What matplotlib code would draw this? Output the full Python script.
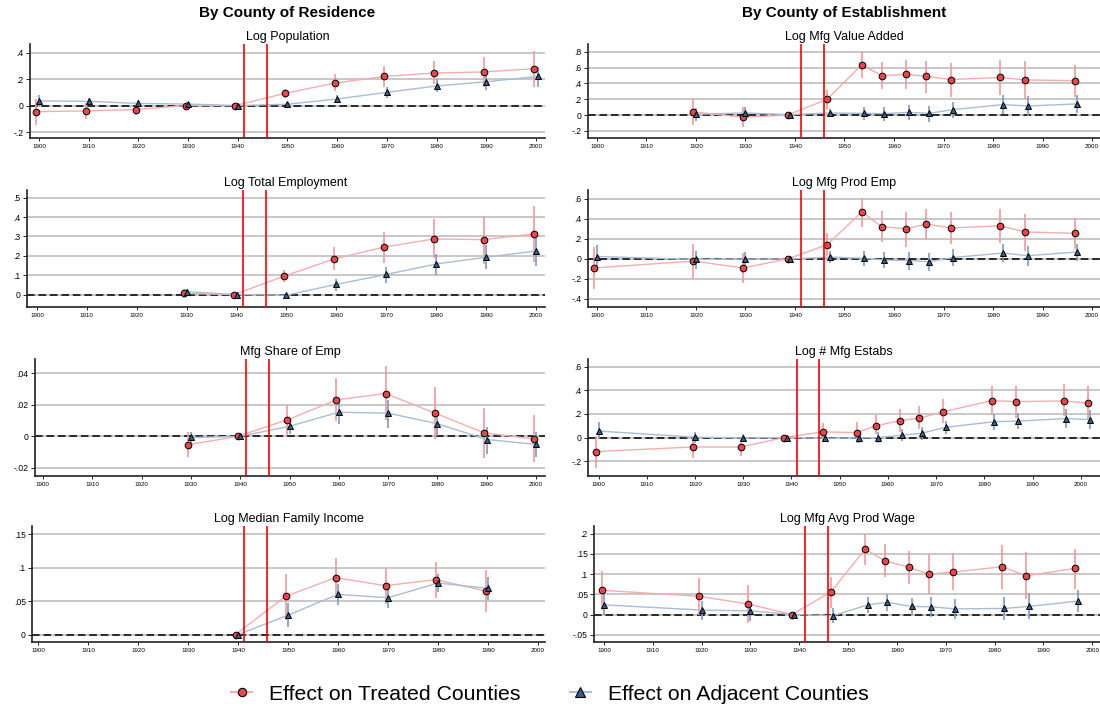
import numpy as np
import matplotlib
matplotlib.use('Agg')
import matplotlib.pyplot as plt
from matplotlib.lines import Line2D

plt.rcParams['font.family'] = ['Liberation Sans', 'DejaVu Sans']

# ---- data: point estimates and 95% CI bounds (treated = red, adjacent = blue) ----
# Log Population
pop_yr_t = [1899.5, 1909.5, 1919.5, 1929.5, 1939.5, 1949.5, 1959.5, 1969.5, 1979.5, 1989.5, 1999.5]
pop_t = [-0.046, -0.04, -0.03, 0.0, 0.0, 0.092, 0.17, 0.22, 0.246, 0.254, 0.278]
pop_t_lo = [-0.145, -0.105, -0.075, -0.02, 0.0, 0.06, 0.11, 0.14, 0.16, 0.14, 0.14]
pop_t_hi = [0.05, 0.02, 0.01, 0.02, 0.0, 0.125, 0.235, 0.30, 0.34, 0.37, 0.41]
pop_yr_a = [1900, 1910, 1920, 1930, 1940, 1950, 1960, 1970, 1980, 1990, 2000.3]
pop_a = [0.035, 0.032, 0.016, 0.011, 0.0, 0.01, 0.05, 0.10, 0.148, 0.18, 0.22]
pop_a_lo = [0.0, 0.01, -0.01, -0.01, 0.0, -0.01, 0.02, 0.06, 0.10, 0.12, 0.14]
pop_a_hi = [0.08, 0.06, 0.04, 0.03, 0.0, 0.03, 0.08, 0.14, 0.20, 0.24, 0.29]

# Log Total Employment
emp_yr_t = [1929.5, 1939.5, 1949.5, 1959.5, 1969.5, 1979.5, 1989.5, 1999.5]
emp_t = [0.006, 0.0, 0.095, 0.184, 0.245, 0.287, 0.284, 0.313]
emp_t_lo = [-0.02, 0.0, 0.065, 0.125, 0.165, 0.19, 0.16, 0.17]
emp_t_hi = [0.03, 0.0, 0.125, 0.245, 0.325, 0.39, 0.405, 0.455]
emp_yr_a = [1930, 1940, 1950, 1960, 1970, 1980, 1990, 2000]
emp_a = [0.015, 0.0, -0.003, 0.053, 0.104, 0.158, 0.193, 0.225]
emp_a_lo = [0.0, 0.0, -0.02, 0.02, 0.06, 0.10, 0.13, 0.15]
emp_a_hi = [0.03, 0.0, 0.01, 0.08, 0.14, 0.21, 0.255, 0.30]

# Mfg Share of Emp
shr_yr_t = [1929.5, 1939.5, 1949.5, 1959.5, 1969.5, 1979.5, 1989.5, 1999.5]
shr_t = [-0.0053, 0.0, 0.0104, 0.0231, 0.0271, 0.0147, 0.0022, -0.0016]
shr_t_lo = [-0.013, 0.0, 0.001, 0.0095, 0.0105, -0.0015, -0.014, -0.0165]
shr_t_hi = [0.0025, 0.0, 0.02, 0.037, 0.0445, 0.031, 0.018, 0.0133]
shr_yr_a = [1930, 1940, 1950, 1960, 1970, 1980, 1990, 2000]
shr_a = [-0.0007, 0.0, 0.0064, 0.0153, 0.0147, 0.008, -0.002, -0.0051]
shr_a_lo = [-0.004, 0.0, 0.0015, 0.008, 0.0055, 0.0, -0.011, -0.013]
shr_a_hi = [0.003, 0.0, 0.011, 0.022, 0.023, 0.016, 0.006, 0.0025]

# Log Median Family Income
inc_yr_t = [1939.5, 1949.5, 1959.5, 1969.5, 1979.5, 1989.5]
inc_t = [0.0, 0.057, 0.085, 0.073, 0.082, 0.065]
inc_t_lo = [0.0, 0.022, 0.055, 0.046, 0.055, 0.034]
inc_t_hi = [0.0, 0.091, 0.115, 0.10, 0.109, 0.096]
inc_yr_a = [1940, 1950, 1960, 1970, 1980, 1990]
inc_a = [0.0, 0.029, 0.06, 0.055, 0.077, 0.069]
inc_a_lo = [0.0, 0.011, 0.044, 0.04, 0.063, 0.052]
inc_a_hi = [0.0, 0.047, 0.076, 0.07, 0.091, 0.086]

# Log Mfg Value Added
va_yr_t = [1919.5, 1929.5, 1938.5, 1946.5, 1953.5, 1957.5, 1962.5, 1966.5, 1971.5, 1981.5, 1986.5, 1996.5]
va_t = [0.04, -0.027, 0.0, 0.20, 0.636, 0.50, 0.516, 0.49, 0.45, 0.476, 0.445, 0.436]
va_t_lo = [-0.13, -0.15, 0.0, 0.08, 0.47, 0.33, 0.33, 0.28, 0.23, 0.25, 0.20, 0.23]
va_t_hi = [0.21, 0.10, 0.0, 0.32, 0.80, 0.67, 0.70, 0.69, 0.66, 0.70, 0.69, 0.64]
va_yr_a = [1920, 1930, 1939, 1947, 1954, 1958, 1963, 1967, 1972, 1982, 1987, 1997]
va_a = [0.01, 0.027, 0.005, 0.027, 0.022, 0.018, 0.035, 0.022, 0.07, 0.133, 0.115, 0.142]
va_a_lo = [-0.08, -0.05, 0.0, -0.03, -0.06, -0.07, -0.06, -0.09, -0.04, 0.02, -0.01, 0.03]
va_a_hi = [0.09, 0.10, 0.01, 0.08, 0.10, 0.10, 0.13, 0.12, 0.17, 0.25, 0.24, 0.25]

# Log Mfg Prod Emp
pe_yr_t = [1899.5, 1919.5, 1929.5, 1938.5, 1946.5, 1953.5, 1957.5, 1962.5, 1966.5, 1971.5, 1981.5, 1986.5, 1996.5]
pe_t = [-0.089, -0.021, -0.089, 0.0, 0.143, 0.47, 0.325, 0.30, 0.35, 0.31, 0.332, 0.27, 0.257]
pe_t_lo = [-0.30, -0.20, -0.24, 0.0, 0.03, 0.32, 0.17, 0.12, 0.19, 0.15, 0.16, 0.08, 0.10]
pe_t_hi = [0.12, 0.155, 0.06, 0.0, 0.26, 0.615, 0.48, 0.475, 0.505, 0.475, 0.505, 0.455, 0.41]
pe_yr_a = [1900, 1920, 1930, 1939, 1947, 1954, 1958, 1963, 1967, 1972, 1982, 1987, 1997]
pe_a = [0.025, -0.004, 0.0, 0.0, 0.02, 0.007, -0.01, -0.015, -0.028, 0.015, 0.06, 0.033, 0.07]
pe_a_lo = [-0.09, -0.10, -0.06, 0.0, -0.04, -0.07, -0.09, -0.11, -0.12, -0.07, -0.03, -0.07, -0.02]
pe_a_hi = [0.14, 0.08, 0.07, 0.0, 0.08, 0.08, 0.07, 0.07, 0.06, 0.10, 0.15, 0.13, 0.15]

# Log # Mfg Estabs
est_yr_t = [1899.5, 1919.5, 1929.5, 1938.5, 1946.5, 1953.5, 1957.5, 1962.5, 1966.5, 1971.5, 1981.5, 1986.5, 1996.5, 2001.5]
est_t = [-0.119, -0.08, -0.08, 0.0, 0.048, 0.042, 0.10, 0.143, 0.164, 0.218, 0.313, 0.305, 0.31, 0.293]
est_t_lo = [-0.26, -0.175, -0.16, 0.0, -0.03, -0.05, 0.03, 0.05, 0.07, 0.12, 0.195, 0.17, 0.18, 0.16]
est_t_hi = [0.01, 0.01, 0.0, 0.0, 0.12, 0.13, 0.19, 0.24, 0.27, 0.33, 0.44, 0.44, 0.455, 0.44]
est_yr_a = [1900, 1920, 1930, 1939, 1947, 1954, 1958, 1963, 1967, 1972, 1982, 1987, 1997, 2002]
est_a = [0.055, 0.003, -0.003, 0.0, -0.006, -0.003, 0.0, 0.021, 0.036, 0.087, 0.134, 0.14, 0.161, 0.152]
est_a_lo = [0.0, -0.05, -0.04, 0.0, -0.04, -0.05, -0.05, -0.03, -0.02, 0.03, 0.06, 0.07, 0.08, 0.07]
est_a_hi = [0.13, 0.05, 0.03, 0.0, 0.03, 0.04, 0.05, 0.07, 0.09, 0.14, 0.20, 0.21, 0.24, 0.23]

# Log Mfg Avg Prod Wage
wg_yr_t = [1899.5, 1919.5, 1929.5, 1938.5, 1946.5, 1953.5, 1957.5, 1962.5, 1966.5, 1971.5, 1981.5, 1986.5, 1996.5]
wg_t = [0.06, 0.045, 0.026, 0.0, 0.056, 0.162, 0.133, 0.117, 0.10, 0.105, 0.118, 0.096, 0.114]
wg_t_lo = [0.012, 0.0, -0.02, 0.0, 0.017, 0.123, 0.093, 0.075, 0.051, 0.06, 0.063, 0.038, 0.064]
wg_t_hi = [0.107, 0.09, 0.073, 0.0, 0.094, 0.20, 0.174, 0.158, 0.149, 0.151, 0.172, 0.155, 0.163]
wg_yr_a = [1900, 1920, 1930, 1939, 1947, 1954, 1958, 1963, 1967, 1972, 1982, 1987, 1997]
wg_a = [0.024, 0.011, 0.009, 0.0, -0.003, 0.024, 0.03, 0.02, 0.019, 0.014, 0.015, 0.02, 0.033]
wg_a_lo = [0.0, -0.013, -0.016, 0.0, -0.022, 0.004, 0.008, -0.002, -0.006, -0.01, -0.013, -0.012, 0.006]
wg_a_hi = [0.05, 0.034, 0.032, 0.0, 0.017, 0.043, 0.05, 0.042, 0.044, 0.038, 0.044, 0.052, 0.06]

war_years = [1941.2, 1945.8]
xticks = list(range(1900, 2001, 10))

# colours
red_fill = '#e8464a'
red_ci = '#f2999a'
red_line = '#f5aeae'
blue_fill = '#3a5d86'
blue_ci = '#7d9bc0'
blue_line = '#a9bdd6'


def ylab(v):
    if abs(v) < 1e-12:
        return '0'
    s = ('%g' % v)
    return s.replace('0.', '.')


def panel(ax, title, t, a, yticks, ylim, xlim):
    yt, ty, tlo, thi = t
    ya, ay, alo, ahi = a
    for y in yticks:
        ax.axhline(y, color='#b9b9b9', lw=1.1, zorder=0)
    ax.axhline(0, color='black', lw=1.1, ls=(0, (5, 2.5)), zorder=1)
    ax.vlines(yt, tlo, thi, color=red_ci, lw=1.2, zorder=2)
    ax.vlines(ya, alo, ahi, color=blue_ci, lw=1.2, zorder=2)
    ax.plot(yt, ty, color=red_line, lw=1.0, zorder=3)
    ax.plot(ya, ay, color=blue_line, lw=1.0, zorder=3)
    ax.plot(yt, ty, 'o', ms=4.8, mfc=red_fill, mec='black', mew=0.7, zorder=4, clip_on=False)
    ax.plot(ya, ay, '^', ms=5.0, mfc=blue_fill, mec='black', mew=0.7, zorder=4, clip_on=False)
    for w in war_years:
        ax.axvline(w, color='red', lw=1.2, zorder=5)
    ax.set_xlim(*xlim)
    ax.set_ylim(*ylim)
    ax.set_xticks(xticks)
    ax.set_xticklabels([str(x) for x in xticks], fontsize=4.5)
    ax.set_yticks(yticks)
    ax.set_yticklabels([ylab(v) for v in yticks], fontsize=6.2)
    ax.tick_params(axis='x', length=2.5, width=0.6, pad=1.5)
    ax.tick_params(axis='y', length=3, width=0.6, pad=1.5)
    for s in ['top', 'right']:
        ax.spines[s].set_visible(False)
    for s in ['left', 'bottom']:
        ax.spines[s].set_linewidth(1.2)
        ax.spines[s].set_color('#222222')
    ax.set_title(title, fontsize=9, pad=3)


fig = plt.figure(figsize=(11, 7.11), dpi=100)
fig.patch.set_facecolor('white')

W, H = 1100.0, 711.0
rows = [(44, 138), (190, 307), (359, 476), (526, 642)]


def make_ax(x0, x1, row):
    top, bot = rows[row]
    return fig.add_axes([x0 / W, 1 - bot / H, (x1 - x0) / W, (bot - top) / H])


ax = make_ax(30, 545, 0)
panel(ax, 'Log Population', (pop_yr_t, pop_t, pop_t_lo, pop_t_hi), (pop_yr_a, pop_a, pop_a_lo, pop_a_hi),
      [-0.2, 0, 0.2, 0.4], (-0.245, 0.465), (1898.2, 2001.8))
ax = make_ax(27, 545, 1)
panel(ax, 'Log Total Employment', (emp_yr_t, emp_t, emp_t_lo, emp_t_hi), (emp_yr_a, emp_a, emp_a_lo, emp_a_hi),
      [0, 0.1, 0.2, 0.3, 0.4, 0.5], (-0.064, 0.54), (1898.0, 2001.8))
ax = make_ax(35, 545, 2)
panel(ax, 'Mfg Share of Emp', (shr_yr_t, shr_t, shr_t_lo, shr_t_hi), (shr_yr_a, shr_a, shr_a_lo, shr_a_hi),
      [-0.02, 0, 0.02, 0.04], (-0.0251, 0.049), (1898.4, 2001.8))
ax = make_ax(32, 545, 3)
panel(ax, 'Log Median Family Income', (inc_yr_t, inc_t, inc_t_lo, inc_t_hi), (inc_yr_a, inc_a, inc_a_lo, inc_a_hi),
      [0, 0.05, 0.1, 0.15], (-0.011, 0.162), (1898.8, 2001.4))

ax = make_ax(588, 1100, 0)
panel(ax, 'Log Mfg Value Added', (va_yr_t, va_t, va_t_lo, va_t_hi), (va_yr_a, va_a, va_a_lo, va_a_hi),
      [-0.2, 0, 0.2, 0.4, 0.6, 0.8], (-0.29, 0.9), (1898.2, 2001.6))
ax = make_ax(588, 1100, 1)
panel(ax, 'Log Mfg Prod Emp', (pe_yr_t, pe_t, pe_t_lo, pe_t_hi), (pe_yr_a, pe_a, pe_a_lo, pe_a_hi),
      [-0.4, -0.2, 0, 0.2, 0.4, 0.6], (-0.48, 0.69), (1898.2, 2001.6))
ax = make_ax(588, 1100, 2)
panel(ax, 'Log # Mfg Estabs', (est_yr_t, est_t, est_t_lo, est_t_hi), (est_yr_a, est_a, est_a_lo, est_a_hi),
      [-0.2, 0, 0.2, 0.4, 0.6], (-0.326, 0.666), (1897.8, 2004.0))
ax = make_ax(594, 1100, 3)
panel(ax, 'Log Mfg Avg Prod Wage', (wg_yr_t, wg_t, wg_t_lo, wg_t_hi), (wg_yr_a, wg_a, wg_a_lo, wg_a_hi),
      [-0.05, 0, 0.05, 0.1, 0.15, 0.2], (-0.068, 0.219), (1897.95, 2001.6))

fig.text(287 / W, 1 - 13.5 / H, 'By County of Residence', ha='center', va='center',
         fontsize=11, fontweight='bold')
fig.text(844 / W, 1 - 13.5 / H, 'By County of Establishment', ha='center', va='center',
         fontsize=11, fontweight='bold')

handles = [
    Line2D([], [], color=red_line, lw=1.5, marker='o', ms=6, mfc=red_fill, mec='black', mew=0.8),
    Line2D([], [], color=blue_line, lw=1.5, marker='^', ms=6.5, mfc=blue_fill, mec='black', mew=0.8),
]
fig.legend(handles, ['Effect on Treated Counties', 'Effect on Adjacent Counties'],
           loc='center', bbox_to_anchor=(0.5, 1 - 694 / H), ncol=2, frameon=False,
           fontsize=15.3, handlelength=1.0, columnspacing=2.3, handletextpad=0.8)

fig.savefig('out.png', dpi=100, facecolor='white')
